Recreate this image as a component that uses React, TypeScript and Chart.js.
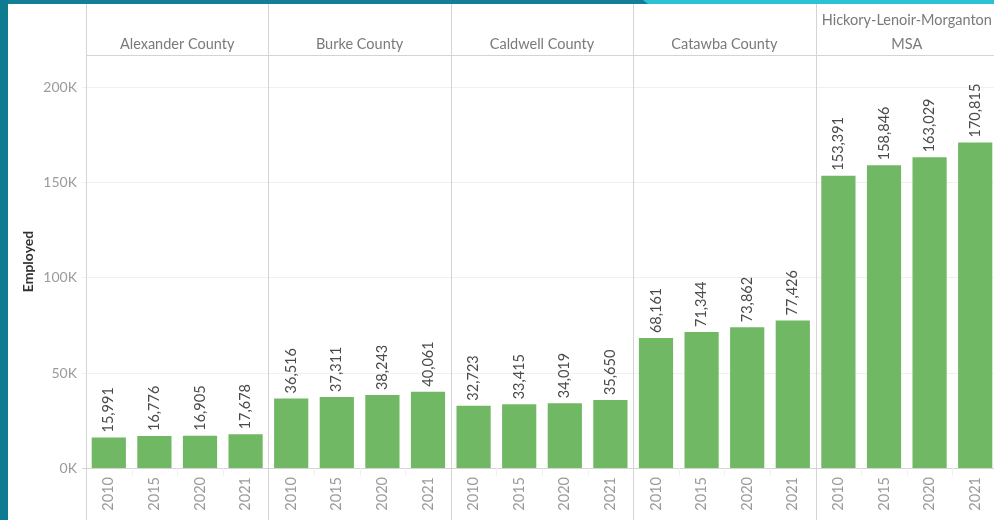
import React, { useEffect, useRef } from "react";
import { Chart, registerables } from "chart.js";

Chart.register(...registerables);

const groups = ["Alexander County", "Burke County", "Caldwell County", "Catawba County", "Hickory-Lenoir-Morganton MSA"];
const groupHeaderLines = [["Alexander County"], ["Burke County"], ["Caldwell County"], ["Catawba County"], ["Hickory-Lenoir-Morganton", "MSA"]];
const years = ["2010", "2015", "2020", "2021"];
const alexander = [15991, 16776, 16905, 17678];
const burke = [36516, 37311, 38243, 40061];
const caldwell = [32723, 33415, 34019, 35650];
const catawba = [68161, 71344, 73862, 77426];
const msa = [153391, 158846, 163029, 170815];
const yTicks = [0, 50000, 100000, 150000, 200000];
const yTickLabels = ["0K", "50K", "100K", "150K", "200K"];
const yTitle = "Employed";

const FONT = "Lato, 'Noto Sans', sans-serif";

export default function App() {
  const ref = useRef<HTMLCanvasElement>(null);
  useEffect(() => {
    const series = [alexander, burke, caldwell, catawba, msa];
    const labels: string[] = [];
    const values: number[] = [];
    series.forEach((s) => s.forEach((v, i) => { labels.push(years[i]); values.push(v); }));

    const deco = {
      id: "deco",
      beforeDraw(chart: any) {
        const { ctx, chartArea: a, scales } = chart;
        const y = scales.y, x = scales.x;
        ctx.save();
        ctx.fillStyle = "#ffffff";
        ctx.fillRect(0, 0, chart.width, chart.height);
        // gridlines
        yTicks.forEach((t, i) => {
          const py = Math.round(y.getPixelForValue(t)) + 0.5;
          ctx.strokeStyle = t === 0 ? "#d4d4d4" : "#f0f0f0";
          ctx.lineWidth = 1;
          ctx.beginPath();
          ctx.moveTo(a.left - 4, py);
          ctx.lineTo(a.right, py);
          ctx.stroke();
          ctx.fillStyle = "#9a9a9a";
          ctx.font = `14px ${FONT}`;
          ctx.textAlign = "right";
          ctx.textBaseline = "middle";
          ctx.fillText(yTickLabels[i], a.left - 9, py);
        });
        // axis title
        ctx.save();
        ctx.translate(28, (a.top + a.bottom) / 2);
        ctx.rotate(-Math.PI / 2);
        ctx.fillStyle = "#333333";
        ctx.font = `bold 14px ${FONT}`;
        ctx.textAlign = "center";
        ctx.textBaseline = "middle";
        ctx.fillText(yTitle, 0, 0);
        ctx.restore();
        // header bottom line
        ctx.strokeStyle = "#d4d4d4";
        ctx.beginPath();
        ctx.moveTo(a.left, Math.round(a.top) + 0.5);
        ctx.lineTo(a.right, Math.round(a.top) + 0.5);
        ctx.stroke();
        // panel dividers and headers
        const step = (x.getPixelForValue(1) - x.getPixelForValue(0));
        groups.forEach((g, gi) => {
          const left = x.getPixelForValue(gi * 4) - step / 2;
          const right = left + step * 4;
          const px = Math.round(left) + 0.5;
          ctx.strokeStyle = "#d4d4d4";
          ctx.beginPath();
          ctx.moveTo(px, 0);
          ctx.lineTo(px, chart.height);
          ctx.stroke();
          const lines = groupHeaderLines[gi];
          ctx.fillStyle = "#7a7a7a";
          ctx.font = `14.5px ${FONT}`;
          ctx.textAlign = "center";
          ctx.textBaseline = "middle";
          const cx = (left + right) / 2;
          lines.forEach((ln, li) => {
            const ly = 44 - (lines.length - 1 - li) * 24;
            ctx.fillText(ln, cx, ly);
          });
          // faint ticks between years in label area
          for (let k = 1; k < 4; k++) {
            const tx = Math.round(left + step * k) + 0.5;
            ctx.strokeStyle = "#f0f0f0";
            ctx.beginPath();
            ctx.moveTo(tx, a.bottom);
            ctx.lineTo(tx, a.bottom + 8);
            ctx.stroke();
          }
        });
        // x labels
        labels.forEach((lb, i) => {
          const px = x.getPixelForValue(i);
          ctx.save();
          ctx.translate(px, a.bottom + 9);
          ctx.rotate(-Math.PI / 2);
          ctx.fillStyle = "#9a9a9a";
          ctx.font = `14.5px ${FONT}`;
          ctx.textAlign = "right";
          ctx.textBaseline = "middle";
          ctx.fillText(lb, 0, 0);
          ctx.restore();
        });
        ctx.restore();
      },
      afterDatasetsDraw(chart: any) {
        const { ctx } = chart;
        const meta = chart.getDatasetMeta(0);
        ctx.save();
        meta.data.forEach((bar: any, i: number) => {
          ctx.save();
          ctx.translate(bar.x, bar.y - 5);
          ctx.rotate(-Math.PI / 2);
          ctx.fillStyle = "#4a4a4a";
          ctx.font = `14.5px ${FONT}`;
          ctx.textAlign = "left";
          ctx.textBaseline = "middle";
          ctx.fillText(values[i].toLocaleString("en-US"), 0, 0);
          ctx.restore();
        });
        ctx.restore();
      },
      afterDraw(chart: any) {
        const { ctx } = chart;
        ctx.save();
        ctx.fillStyle = "#137f97";
        ctx.fillRect(0, 0, chart.width, 4);
        ctx.fillStyle = "#2bc2d6";
        ctx.beginPath();
        ctx.moveTo(643, 0);
        ctx.lineTo(chart.width, 0);
        ctx.lineTo(chart.width, 4);
        ctx.lineTo(648, 4);
        ctx.closePath();
        ctx.fill();
        ctx.fillStyle = "#0f7b91";
        ctx.fillRect(0, 0, 8, chart.height);
        ctx.restore();
      },
    };

    const chart = new Chart(ref.current!, {
      type: "bar",
      data: {
        labels,
        datasets: [{
          data: values,
          backgroundColor: "#71b865",
          barPercentage: 0.75,
          categoryPercentage: 1,
        }],
      },
      options: {
        animation: false,
        responsive: false,
        devicePixelRatio: 1,
        layout: { padding: { left: 86, right: 2, top: 55, bottom: 52 } },
        plugins: { legend: { display: false }, tooltip: { enabled: false } },
        scales: {
          x: { display: false, offset: true },
          y: { display: false, min: 0, max: 216700 },
        },
      },
      plugins: [deco],
    });
    return () => chart.destroy();
  }, []);
  return (
    <div style={{ position: "fixed", left: 0, top: 0, width: 994, height: 520, overflow: "hidden", background: "#fff" }}>
      <canvas ref={ref} width={1000} height={520} style={{ width: 1000, height: 520, display: "block" }} />
    </div>
  );
}
